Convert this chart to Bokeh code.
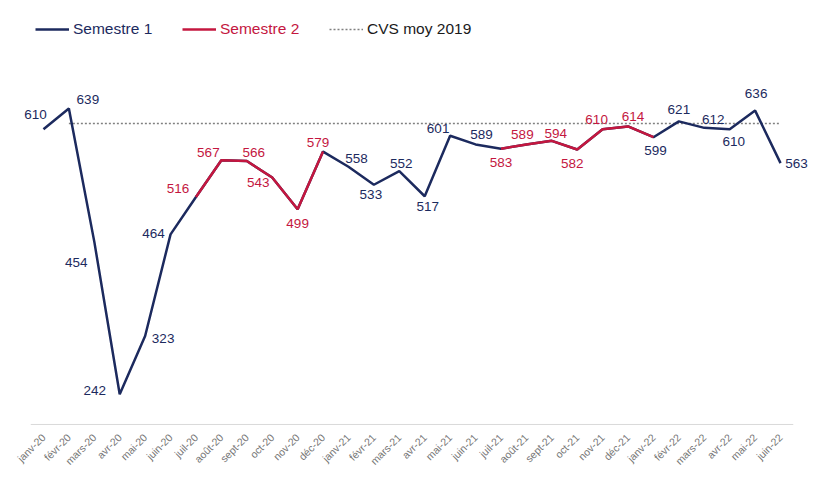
import math
from bokeh.plotting import figure
from bokeh.models import FactorRange, Range1d, Legend, LegendItem, ColumnDataSource, LabelSet
from bokeh.core.properties import value
from bokeh.embed import file_html
from bokeh.resources import INLINE

months = ["janv-20", "févr-20", "mars-20", "avr-20", "mai-20", "juin-20",
          "juil-20", "août-20", "sept-20", "oct-20", "nov-20", "déc-20",
          "janv-21", "févr-21", "mars-21", "avr-21", "mai-21", "juin-21",
          "juil-21", "août-21", "sept-21", "oct-21", "nov-21", "déc-21",
          "janv-22", "févr-22", "mars-22", "avr-22", "mai-22", "juin-22"]
values = [610, 639, 454, 242, 323, 464,
          516, 567, 566, 543, 499, 579,
          558, 533, 552, 517, 601, 589,
          583, 589, 594, 582, 610, 614,
          599, 621, 612, 610, 636, 563]
semester = [1, 1, 1, 1, 1, 1, 2, 2, 2, 2, 2, 2,
            1, 1, 1, 1, 1, 1, 2, 2, 2, 2, 2, 2,
            1, 1, 1, 1, 1, 1]
red_segments = [("juil-20", "déc-20"), ("juil-21", "janv-22")]
cvs_2019 = 618
cvs_start = "févr-20"
y_min = 200

BLUE = "#1c2a5e"
RED = "#c4173f"
FONT = "Liberation Sans"

# label offsets in pixels (dx right, dy down)
label_dx = [-8, 19, -18, -25, 18, -17, -18, -13, 7, -14, 0, -5, 8, -3, 2, 3,
            -12, 6, 0, -4, 4, -5, -6, 5, 2, 0, 9, 4, 1, 16]
label_dy = [-15, -9, 21, -4, 3, -1, -8, -8, -8, 5, 14, -9, -8, 10, -8, 10,
            -7, -10, 14, -10, -7, 14, -10, -10, 13, -12, -8, 12, -17, 0]

red_y = [float("nan")] * len(values)
for a, b in red_segments:
    ia, ib = months.index(a), months.index(b)
    for i in range(ia, ib + 1):
        red_y[i] = values[i]

cvs_months = months[months.index(cvs_start):]

p = figure(width=812, height=480, output_backend="svg", toolbar_location=None,
           x_range=FactorRange(factors=months, range_padding=0.6,
                               range_padding_units="absolute"),
           y_range=Range1d(197.2, 788.9), y_axis_location=None,
           min_border_left=15, min_border_right=4, min_border_top=0,
           min_border_bottom=54)
p.outline_line_color = None
p.xgrid.grid_line_color = None
p.ygrid.grid_line_color = None

xa = p.xaxis[0]
xa.axis_line_color = None
xa.major_tick_line_color = None
xa.minor_tick_line_color = None
xa.major_tick_out = 0
xa.major_tick_in = 0
xa.major_label_standoff = 9
xa.major_label_orientation = math.pi / 4
xa.major_label_text_font = FONT
xa.major_label_text_font_size = "10.5px"
xa.major_label_text_color = "#767676"

# category axis baseline spanning the categories only
p.segment(x0=[0], y0=[y_min], x1=[len(months)], y1=[y_min],
          line_color="#d9d9d9", line_width=1)

cvs = p.line(cvs_months, [cvs_2019] * len(cvs_months), line_color="#808080",
             line_width=1.6, line_dash="2 2")
blue = p.line(months, values, line_color=BLUE, line_width=2.5)
red = p.line(months, red_y, line_color=RED, line_width=2.5)

src = ColumnDataSource(dict(
    x=months, y=values, t=[str(v) for v in values],
    c=[BLUE if s == 1 else RED for s in semester],
    dx=label_dx, dy=[-d for d in label_dy]))
labels = LabelSet(x="x", y="y", text="t", source=src, text_color="c",
                  x_offset="dx", y_offset="dy", text_align="center",
                  text_baseline="middle", text_font=value(FONT),
                  text_font_size=value("13.5px"))
p.add_layout(labels)

def add_leg(label, r, x, color):
    leg = Legend(items=[LegendItem(label=label, renderers=[r])],
                 location=(x, 388), orientation="horizontal",
                 glyph_width=34, glyph_height=16, label_standoff=4,
                 padding=0, margin=0, border_line_color=None,
                 background_fill_alpha=0, label_text_font=FONT,
                 label_text_font_size="15.5px", label_text_color=color)
    p.add_layout(leg, "center")

add_leg("Semestre 1", blue, 20, BLUE)
add_leg("Semestre 2", red, 167, RED)
add_leg("CVS moy 2019", cvs, 314, "#1a1a1a")

open("out.html", "w").write(file_html(p, INLINE))
